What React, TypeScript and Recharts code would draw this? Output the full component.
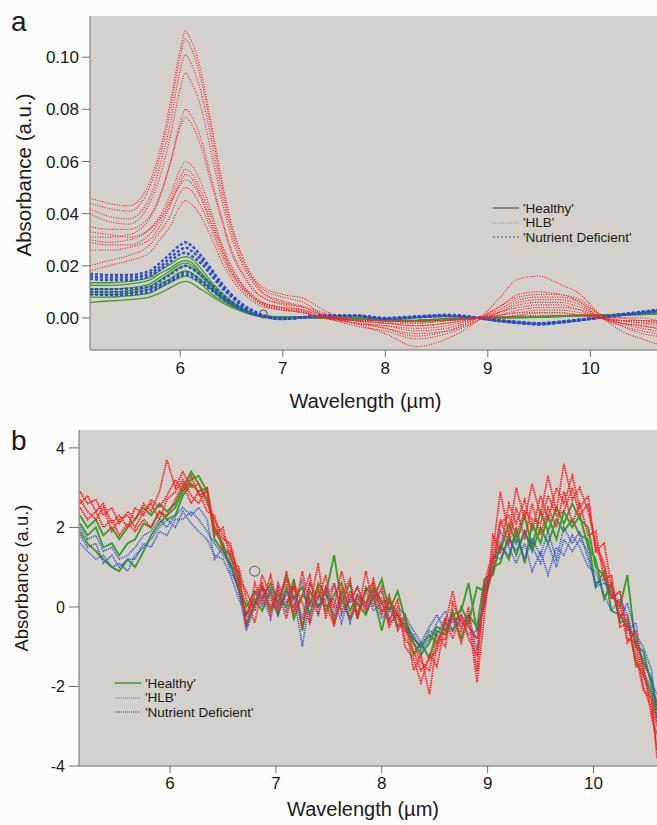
import React from "react";
import { LineChart, Line, XAxis, YAxis, CartesianGrid, ReferenceDot } from "recharts";

// panel a: smoothed spectra
const WL_A = [5.12, 5.3, 5.5, 5.7, 5.8, 5.9, 6.0, 6.05, 6.1, 6.2, 6.3, 6.4, 6.5, 6.6, 6.7, 6.8, 7.0, 7.2, 7.4, 7.7, 8.0, 8.3, 8.6, 8.9, 9.1, 9.3, 9.5, 9.7, 9.9, 10.1, 10.3, 10.5, 10.65];

const HEALTHY_A = [
  [.0135, .0135, .014, .0155, .018, .0205, .023, .0235, .023, .019, .014, .010, .0065, .004, .002, .001, .0005, .0005, .000, .000, -.001, -.001, -.0005, .000, .000, .000, .0005, .0005, .001, .001, .0015, .0015, .002],
  [.0125, .0125, .013, .0145, .017, .019, .0215, .022, .0215, .0175, .013, .009, .006, .0035, .0018, .0008, .0003, .0003, -.0002, -.0002, -.0012, -.0012, -.0008, -.0002, .0000, .0002, .0005, .0008, .0010, .0012, .0014, .0016, .0018],
  [.011, .011, .0115, .013, .0155, .018, .0205, .021, .0205, .017, .0125, .0088, .0058, .0035, .0017, .0008, .0003, .0003, .0000, -.0003, -.0008, -.001, -.0005, .0000, .0003, .0003, .0004, .0008, .001, .0012, .0014, .0015, .0016],
  [.010, .010, .0105, .012, .0145, .017, .0195, .020, .0195, .016, .012, .0084, .0056, .0034, .0016, .0007, .0002, .0002, -.0001, -.0004, -.0009, -.0011, -.0006, -.0001, .0002, .0002, .0003, .0006, .0009, .0011, .0013, .0014, .0015],
  [.009, .009, .0095, .011, .013, .015, .0175, .018, .0175, .0145, .011, .0076, .005, .003, .0014, .0006, .0002, .0004, .0001, -.0002, -.0007, -.0009, -.0004, .0001, .0004, .0004, .0005, .0007, .0010, .0012, .0013, .0015, .0017],
  [.008, .008, .0085, .0095, .0115, .0135, .0155, .016, .0155, .013, .0095, .0067, .0045, .0027, .0013, .0005, .0001, .0001, -.0002, -.0005, -.0010, -.0013, -.0007, -.0002, .0001, .0001, .0002, .0005, .0008, .0010, .0012, .0013, .0014],
  [.006, .0065, .007, .008, .0095, .0115, .0135, .014, .0135, .011, .0085, .006, .004, .0025, .0012, .0005, .0001, .0002, -.0001, -.0003, -.0008, -.0010, -.0005, .0000, .0002, .0003, .0004, .0006, .0009, .0011, .0012, .0013, .0015],
];

const HLB_A = [
  [.046, .044, .043, .052, .064, .082, .103, .110, .107, .095, .075, .054, .036, .024, .016, .012, .009, .0075, .003, -.002, -.006, -.011, -.008, -.001, .007, .015, .016, .013, .009, .001, -.005, -.008, -.010],
  [.044, .042, .041, .050, .0615, .079, .100, .107, .104, .092, .073, .052, .035, .024, .016, .011, .008, .006, .001, -.003, -.005, -.008, -.006, -.001, .004, .009, .010, .009, .007, .001, -.003, -.006, -.007],
  [.042, .039, .038, .046, .058, .074, .095, .101, .098, .087, .069, .049, .033, .022, .015, .010, .0065, .0045, .002, -.001, -.004, -.006, -.005, .000, .004, .008, .009, .009, .006, .000, -.003, -.005, -.006],
  [.040, .037, .036, .044, .054, .069, .088, .094, .091, .081, .064, .046, .031, .021, .014, .0095, .006, .004, .001, -.002, -.003, -.005, -.004, .000, .003, .007, .008, .008, .006, .001, -.002, -.004, -.005],
  [.031, .031, .032, .038, .046, .059, .075, .080, .078, .069, .054, .039, .026, .018, .012, .008, .0055, .004, .001, -.002, -.004, -.007, -.005, -.001, .002, .006, .007, .007, .005, .000, -.002, -.003, -.004],
  [.035, .034, .034, .039, .047, .059, .073, .077, .075, .066, .052, .038, .025, .017, .011, .008, .005, .003, .000, -.002, -.003, -.004, -.003, .000, .002, .005, .006, .006, .004, .000, -.002, -.003, -.004],
  [.030, .029, .030, .034, .039, .047, .057, .060, .059, .052, .041, .029, .020, .013, .009, .006, .004, .003, .001, -.001, -.002, -.003, -.002, .000, .002, .004, .005, .005, .003, .000, -.001, -.002, -.003],
  [.029, .028, .028, .032, .037, .045, .054, .057, .056, .049, .039, .028, .019, .013, .0085, .006, .004, .0025, .000, -.001, -.002, -.003, -.002, .000, .001, .003, .004, .004, .003, .000, -.001, -.002, -.002],
  [.026, .026, .027, .030, .035, .043, .052, .055, .054, .047, .037, .027, .018, .012, .008, .0055, .0035, .002, .000, -.001, -.002, -.002, -.001, .000, .001, .002, .003, .003, .002, .000, -.001, -.001, -.002],
  [.033, .032, .031, .034, .038, .044, .051, .053, .052, .046, .036, .026, .0175, .012, .008, .0055, .0035, .002, .000, -.001, -.001, -.002, -.001, .000, .001, .002, .002, .002, .001, .000, -.001, -.001, -.001],
  [.020, .022, .024, .028, .033, .039, .048, .050, .049, .043, .034, .0245, .0165, .011, .0075, .005, .003, .002, .000, -.001, -.001, -.001, -.001, .000, .000, .001, .002, .002, .001, .000, .000, -.001, -.001],
  [.018, .020, .022, .025, .030, .035, .043, .045, .044, .039, .031, .022, .015, .010, .0065, .0045, .003, .002, .000, .000, -.001, -.001, .000, .000, .000, .001, .001, .001, .001, .000, .000, .000, -.001],
];

const DEFICIENT_A = [
  [.017, .0165, .0165, .018, .021, .0245, .028, .029, .028, .024, .019, .0135, .009, .0055, .003, .0012, -.0003, .0003, .0010, .0010, .0000, .0006, .0012, .0002, -.0008, -.0015, -.0022, -.0016, -.0008, .0002, .0012, .0022, .0030],
  [.016, .0155, .0155, .017, .0195, .023, .026, .027, .026, .0225, .018, .0125, .0085, .005, .0028, .001, -.0003, .0002, .0008, .0009, -.0002, .0004, .0010, .0001, -.0010, -.0016, -.0020, -.0014, -.0006, .0004, .0014, .0024, .0032],
  [.015, .0145, .0145, .016, .0185, .0215, .0245, .025, .024, .021, .0165, .0118, .008, .0048, .0026, .0009, -.0004, .0002, .0008, .0008, -.0003, .0003, .0009, .0000, -.0012, -.0020, -.0025, -.0018, -.0008, .0002, .0012, .0020, .0028],
  [.011, .011, .0112, .012, .014, .0165, .0192, .020, .0192, .0165, .013, .0093, .0062, .0038, .002, .0007, -.0004, .0002, .0007, .0008, -.0002, .0003, .0008, .0000, -.0010, -.0018, -.0024, -.0017, -.0008, .0002, .0011, .0020, .0027],
  [.010, .0098, .010, .011, .0125, .0145, .0168, .0175, .017, .0145, .0115, .0082, .0055, .0034, .0018, .0006, -.0003, .0003, .0008, .0009, -.0001, .0004, .0009, .0001, -.0009, -.0017, -.0022, -.0016, -.0007, .0003, .0013, .0021, .0029],
  [.009, .0088, .009, .010, .0118, .0138, .016, .0165, .016, .0137, .0108, .0077, .0052, .0032, .0017, .0006, -.0003, .0001, .0006, .0007, -.0004, .0002, .0007, -.0001, -.0011, -.0019, -.0023, -.0017, -.0009, .0001, .0010, .0019, .0026],
];

// panel b: normalised spectra
const WL_B = [5.15, 5.22, 5.3, 5.37, 5.45, 5.52, 5.6, 5.67, 5.75, 5.82, 5.9, 5.97, 6.05, 6.12, 6.2, 6.27, 6.35, 6.42, 6.5, 6.57, 6.65, 6.72, 6.8, 6.87, 6.95, 7.02, 7.1, 7.17, 7.25, 7.32, 7.4, 7.47, 7.55, 7.62, 7.7, 7.77, 7.85, 7.92, 8.0, 8.07, 8.15, 8.22, 8.3, 8.37, 8.45, 8.52, 8.6, 8.67, 8.75, 8.82, 8.9, 8.97, 9.05, 9.12, 9.2, 9.27, 9.35, 9.42, 9.5, 9.57, 9.65, 9.72, 9.8, 9.87, 9.95, 10.02, 10.1, 10.17, 10.25, 10.32, 10.4, 10.47, 10.55, 10.6];

const HEALTHY_B = [
  [2.3, 2.0, 2.2, 1.8, 2.0, 1.7, 2.0, 2.2, 2.5, 2.3, 2.6, 2.4,
    2.6, 3.0, 3.4, 3.1, 2.7, 2.0, 1.5, 1.3, 0.6,
    0.0, 0.4, 0.2, 0.6, 0.1, 0.8, 0.2, 0.5, -0.2, 0.6,
    0.3, 1.3, 0.1, 0.6, -0.3, 0.5, 0.2, 0.7, -0.1, 0.4,
    -0.3, -0.8, -1.0, -0.7, -0.9, -0.4, -0.6, 0.0, -0.4, 0.5,
    0.4, 1.2, 1.4, 2.1, 1.6, 2.3, 1.5, 2.4, 1.9, 2.5,
    2.1, 2.6, 2.2, 2.0, 1.0, 0.8, 0.3, 0.0, 0.8, -1.0, -1.1, -2.0, -2.4],
  [1.9, 1.6, 1.4, 1.2, 1.0, 0.9, 1.2, 1.0, 1.4, 1.8, 2.1, 2.3,
    2.5, 2.9, 3.2, 3.3, 2.9, 1.9, 1.6, 1.0, 0.9,
    -0.5, 0.1, 0.5, -0.1, 0.3, 0.0, 0.7, -0.6, 0.4, 0.0,
    0.4, -0.4, 0.2, -0.3, 0.1, -0.2, 0.3, -0.6, 0.2, -0.5,
    -0.2, -1.2, -0.9, -1.3, -0.6, -0.7, -0.1, -0.8, -0.2, -0.5,
    0.7, 0.8, 1.6, 1.2, 2.0, 1.1, 2.1, 1.6, 2.3, 1.7,
    2.4, 2.0, 2.3, 1.5, 1.2, 0.2, 0.6, -0.4, -0.3, -1.4, -1.7, -2.2, -2.8],
  [2.1, 1.8, 2.0, 1.5, 1.6, 1.3, 1.6, 1.7, 2.1, 2.0, 2.4, 2.2,
    2.3, 2.8, 3.1, 2.9, 3.0, 1.7, 1.4, 1.1, 0.4,
    -0.2, 0.2, -0.1, 0.4, -0.2, 0.5, -0.3, 0.3, 0.1, 0.4,
    -0.1, 0.3, 0.6, -0.1, 0.3, 0.1, 0.5, 0.1, 0.2, -0.2,
    -0.5, -0.9, -1.2, -0.9, -0.5, -0.6, -0.2, -0.1, 0.6, -0.6,
    0.1, 1.0, 1.1, 1.8, 1.3, 1.9, 1.4, 2.0, 1.6, 2.2,
    1.9, 2.2, 1.8, 1.7, 0.5, 0.9, -0.1, -0.2, -0.5, -0.8, -1.4, -1.8, -2.6],
];

const HLB_B = [
  [2.9, 2.6, 2.7, 2.3, 2.5, 2.1, 2.4, 2.2, 2.6, 2.4, 2.9, 3.7,
    3.0, 3.4, 3.0, 3.1, 2.6, 2.2, 1.8, 1.5, 0.8,
    -0.5, 0.6, 0.1, 0.8, 0.0, 0.7, -0.2, 0.9, 0.0, 1.1,
    -0.3, 0.6, -0.1, 0.4, -0.2, 0.9, 0.0, 0.5, -0.4, 0.2,
    -1.0, -1.3, -1.9, -1.2, -1.5, -0.4, 0.4, -0.6, 0.0, -1.6,
    0.6, 1.4, 2.9, 1.8, 3.0, 2.2, 3.1, 2.3, 3.3, 2.4,
    3.6, 2.7, 3.0, 2.4, 1.6, 1.1, 0.2, 0.4, -0.8, -0.9, -2.0, -2.6, -3.6],
  [2.6, 2.8, 2.4, 2.6, 2.1, 2.3, 2.0, 2.5, 2.3, 2.7, 2.5, 2.8,
    3.2, 2.9, 3.3, 2.8, 2.9, 1.8, 2.0, 1.2, 1.0,
    0.2, -0.4, 0.5, -0.2, 0.6, 0.1, 0.5, -0.5, 0.6, 0.2,
    0.8, -0.4, 0.3, 0.7, -0.3, 0.4, 0.6, -0.2, 0.3, -0.6,
    -0.3, -1.6, -1.2, -2.2, -0.9, -0.8, -0.2, -0.9, -0.3, -1.9,
    -0.2, 1.8, 1.4, 2.6, 2.1, 2.7, 1.9, 2.8, 2.2, 3.0,
    2.6, 3.3, 2.5, 2.8, 1.4, 1.6, 0.5, -0.2, -0.2, -1.5, -1.4, -2.8, -3.2],
  [2.5, 2.2, 2.4, 2.0, 2.2, 1.8, 2.1, 1.9, 2.2, 2.0, 2.4, 2.3,
    2.7, 3.1, 2.6, 2.9, 2.4, 2.3, 1.4, 1.4, 0.5,
    -0.2, 0.3, 0.6, 0.0, 0.4, -0.3, 0.6, 0.1, -0.4, 0.5,
    0.1, -0.5, 0.5, -0.3, 0.3, -0.1, 0.4, 0.2, -0.5, -0.1,
    -0.8, -1.1, -1.6, -1.3, -1.1, -0.3, -0.8, -0.2, -0.8, -1.2,
    0.4, 0.9, 2.2, 1.6, 2.5, 1.7, 2.6, 1.8, 2.5, 2.0,
    2.9, 2.1, 2.6, 1.8, 1.9, 0.7, 0.8, -0.5, -0.4, -1.2, -2.1, -2.3, -3.8],
  [2.7, 2.4, 2.2, 2.5, 1.9, 2.2, 2.3, 2.0, 2.4, 2.6, 2.2, 2.7,
    2.9, 3.2, 2.8, 2.6, 3.0, 2.0, 1.7, 1.6, 0.7,
    0.4, -0.1, 0.8, 0.3, -0.1, 0.9, -0.1, 0.3, 0.8, -0.2,
    0.5, 0.0, 0.9, 0.1, 0.5, 0.0, 0.7, -0.1, 0.1, -0.3,
    -0.6, -0.9, -1.4, -1.6, -0.7, -1.0, 0.1, -0.4, -0.5, -0.8,
    0.2, 1.2, 2.1, 2.3, 1.8, 2.4, 2.2, 2.1, 2.8, 2.3,
    2.4, 3.0, 2.3, 2.6, 1.5, 1.0, 0.3, 0.1, -0.9, -0.6, -1.7, -2.4, -3.0],
];

const DEFICIENT_B = [
  [2.0, 1.7, 1.8, 1.4, 1.5, 1.2, 1.3, 1.5, 1.8, 1.9, 2.2, 2.0,
    2.3, 2.5, 2.3, 2.5, 2.2, 1.2, 1.5, 0.9, 0.5,
    -0.4, 0.1, 0.3, -0.3, 0.5, -0.1, 0.3, -1.0, 0.2, -0.2,
    0.5, -0.2, 0.4, -0.4, 0.2, 0.0, 0.4, -0.3, 0.0, -0.5,
    -0.4, -0.8, -1.0, -0.6, -0.7, -0.3, -0.4, -0.2, -0.5, -0.8,
    0.5, 1.2, 1.5, 1.3, 1.8, 1.2, 1.7, 1.3, 1.9, 1.2,
    2.0, 1.6, 1.9, 1.2, 0.6, 0.7, 0.2, 0.4, -0.6, -0.4, -1.6, -2.1, -2.5],
  [1.6, 1.4, 1.2, 1.3, 1.0, 1.1, 0.9, 1.3, 1.5, 1.7, 2.0, 2.2,
    2.0, 2.4, 2.1, 1.9, 1.7, 1.3, 1.2, 0.8, 0.2,
    -0.2, 0.4, 0.0, 0.5, 0.0, 0.3, 0.5, -0.3, 0.6, 0.0,
    0.2, 0.6, -0.2, 0.2, 0.5, -0.1, 0.2, 0.4, -0.3, 0.0,
    -0.2, -0.6, -0.9, -0.5, -0.2, -0.6, -0.3, -0.5, -0.2, -1.1,
    0.3, 0.9, 1.9, 1.5, 1.1, 1.6, 0.9, 1.4, 0.8, 1.5,
    1.3, 1.8, 1.5, 1.0, 0.9, 0.3, -0.1, 0.2, -0.2, -1.0, -1.3, -1.9, -2.2],
  [1.8, 1.5, 1.6, 1.1, 1.3, 1.0, 1.2, 1.2, 1.6, 1.5, 1.9, 1.8,
    2.2, 2.2, 2.4, 2.2, 1.9, 1.6, 1.3, 1.1, 0.4,
    -0.6, 0.0, 0.5, 0.2, -0.2, 0.4, 0.0, 0.7, -0.4, 0.3,
    0.0, 0.2, -0.4, 0.3, -0.2, 0.4, -0.1, 0.1, -0.4, -0.2,
    -0.6, -0.7, -1.1, -0.8, -0.4, -0.1, -0.6, -0.3, -0.7, -0.6,
    0.0, 1.3, 1.2, 1.7, 1.4, 1.9, 1.5, 1.1, 1.6, 1.0,
    1.7, 1.4, 1.7, 1.4, 0.5, 0.6, 0.5, -0.3, 0.1, -0.7, -1.0, -1.6, -2.9],
];

const TICKS_X = [6, 7, 8, 9, 10];
const TICKS_A = [0, 0.02, 0.04, 0.06, 0.08, 0.1];
const TICKS_B = [-4, -2, 0, 2, 4];
const LEGEND_LABELS = ["'Healthy'", "'HLB'", "'Nutrient Deficient'"];

const FONT = '"Liberation Sans", Arial, sans-serif';
const PLOT_BG = "#d4d1cc";
const AXIS = "#707070";
const TEXT = "#1a1a1a";
const GREEN = "#3f9b2f";
const RED = "#ff2222";
const BLUE = "#2b50c4";

type Row = Record<string, number>;

function buildRows(wl: number[], groups: Record<string, number[][]>): Row[] {
  return wl.map((w, i) => {
    const row: Row = { wl: w };
    Object.entries(groups).forEach(([key, list]) => {
      list.forEach((c, j) => {
        row[`${key}${j}`] = c[i];
      });
    });
    return row;
  });
}

const rowsA = buildRows(WL_A, { g: HEALTHY_A, n: DEFICIENT_A, r: HLB_A });
const rowsB = buildRows(WL_B, { g: HEALTHY_B, n: DEFICIENT_B, r: HLB_B });

type LineStyle = { stroke: string; width: number; dash?: string; type: "monotone" | "linear" };

function series(key: string, list: number[][], s: LineStyle) {
  return list.map((_, j) => (
    <Line
      key={`${key}${j}`}
      dataKey={`${key}${j}`}
      type={s.type}
      stroke={s.stroke}
      strokeWidth={s.width}
      strokeDasharray={s.dash}
      dot={false}
      activeDot={false}
      isAnimationActive={false}
    />
  ));
}

type LegendItem = { label: string; color: string; width: number; dash?: string };

function LegendBox({ left, top, items }: { left: number; top: number; items: LegendItem[] }) {
  return (
    <div style={{ position: "absolute", left, top, fontFamily: FONT, fontSize: 13.5, color: TEXT }}>
      {items.map((it) => (
        <div key={it.label} style={{ display: "flex", alignItems: "center", height: 14.5, whiteSpace: "nowrap" }}>
          <svg width={26} height={6} style={{ marginRight: 4 }}>
            <line x1={0} y1={3} x2={26} y2={3} stroke={it.color} strokeWidth={it.width} strokeDasharray={it.dash} />
          </svg>
          <span>{it.label}</span>
        </div>
      ))}
    </div>
  );
}

function YTitle({ x, y, size }: { x: number; y: number; size: number }) {
  return (
    <div
      style={{
        position: "absolute",
        left: x,
        top: y,
        transform: "translate(-50%, -50%) rotate(-90deg)",
        fontFamily: FONT,
        fontSize: size,
        color: TEXT,
        whiteSpace: "nowrap",
      }}
    >
      Absorbance (a.u.)
    </div>
  );
}

function PanelLetter({ top, text }: { top: number; text: string }) {
  return (
    <div style={{ position: "absolute", left: 11, top, fontFamily: FONT, fontSize: 28, lineHeight: "28px", color: TEXT }}>
      {text}
    </div>
  );
}

export default function App() {
  const tick = { fill: TEXT, fontSize: 17, fontFamily: FONT };
  return (
    <div style={{ position: "absolute", left: 0, top: 0, width: 657, height: 825, background: "#fbfbfa", overflow: "hidden" }}>
      <div style={{ position: "absolute", left: 0, top: 0 }}>
        <LineChart width={657} height={415} data={rowsA} margin={{ top: 16, right: 0, bottom: 0, left: 0 }}>
          <CartesianGrid horizontal={false} vertical={false} fill={PLOT_BG} />
          <XAxis
            type="number"
            dataKey="wl"
            domain={[5.12, 10.65]}
            ticks={TICKS_X}
            interval={0}
            allowDataOverflow
            height={65}
            tickSize={7}
            tickMargin={5}
            tick={tick}
            axisLine={{ stroke: AXIS }}
            tickLine={{ stroke: AXIS }}
            label={{ value: "Wavelength (µm)", position: "insideBottom", offset: 7, dx: -8, fill: TEXT, fontSize: 20, fontFamily: FONT }}
          />
          <YAxis
            type="number"
            domain={[-0.0123, 0.1158]}
            ticks={TICKS_A}
            interval={0}
            allowDataOverflow
            width={90}
            tickSize={8}
            tickMargin={3}
            tick={tick}
            tickFormatter={(v: number) => v.toFixed(2)}
            axisLine={{ stroke: AXIS }}
            tickLine={{ stroke: AXIS }}
          />
          {series("g", HEALTHY_A, { stroke: GREEN, width: 1.3, type: "monotone" })}
          {series("n", DEFICIENT_A, { stroke: BLUE, width: 2.4, dash: "3 2", type: "monotone" })}
          {series("r", HLB_A, { stroke: RED, width: 1.2, dash: "1 1.5", type: "monotone" })}
          <ReferenceDot x={6.81} y={0.0015} r={4} fill="none" stroke="#555" strokeWidth={1} />
        </LineChart>
      </div>

      <div style={{ position: "absolute", left: 0, top: 415 }}>
        <LineChart width={657} height={410} data={rowsB} margin={{ top: 15, right: 0, bottom: 0, left: 0 }}>
          <CartesianGrid horizontal={false} vertical={false} fill={PLOT_BG} />
          <XAxis
            type="number"
            dataKey="wl"
            domain={[5.14, 10.6]}
            ticks={TICKS_X}
            interval={0}
            allowDataOverflow
            height={59}
            tickSize={7}
            tickMargin={4}
            tick={tick}
            axisLine={{ stroke: AXIS }}
            tickLine={{ stroke: AXIS }}
            label={{ value: "Wavelength (µm)", position: "insideBottom", offset: 9, dx: -5, fill: TEXT, fontSize: 20, fontFamily: FONT }}
          />
          <YAxis
            type="number"
            domain={[-4, 4.45]}
            ticks={TICKS_B}
            interval={0}
            allowDataOverflow
            width={79}
            tickSize={10}
            tickMargin={4}
            tick={{ ...tick, fontSize: 16 }}
            axisLine={{ stroke: AXIS }}
            tickLine={{ stroke: AXIS }}
          />
          {series("g", HEALTHY_B, { stroke: GREEN, width: 1.9, type: "linear" })}
          {series("n", DEFICIENT_B, { stroke: BLUE, width: 1.7, dash: "1 1", type: "linear" })}
          {series("r", HLB_B, { stroke: RED, width: 1.8, dash: "1.5 0.8", type: "linear" })}
          <ReferenceDot x={6.8} y={0.9} r={5} fill="none" stroke="#555" strokeWidth={1} />
        </LineChart>
      </div>

      <PanelLetter top={8} text="a" />
      <PanelLetter top={427} text="b" />
      <YTitle x={24} y={175} size={20.5} />
      <YTitle x={22} y={578} size={18.5} />

      <LegendBox
        left={493}
        top={201}
        items={[
          { label: LEGEND_LABELS[0], color: "#555", width: 1.2 },
          { label: LEGEND_LABELS[1], color: "#f07080", width: 1.2, dash: "1 1" },
          { label: LEGEND_LABELS[2], color: "#555", width: 1.2, dash: "2 2" },
        ]}
      />
      <LegendBox
        left={115}
        top={676}
        items={[
          { label: LEGEND_LABELS[0], color: GREEN, width: 1.6 },
          { label: LEGEND_LABELS[1], color: "#ff6070", width: 1.5, dash: "1 1" },
          { label: LEGEND_LABELS[2], color: "#5a60c8", width: 1.5, dash: "1 1" },
        ]}
      />
    </div>
  );
}
